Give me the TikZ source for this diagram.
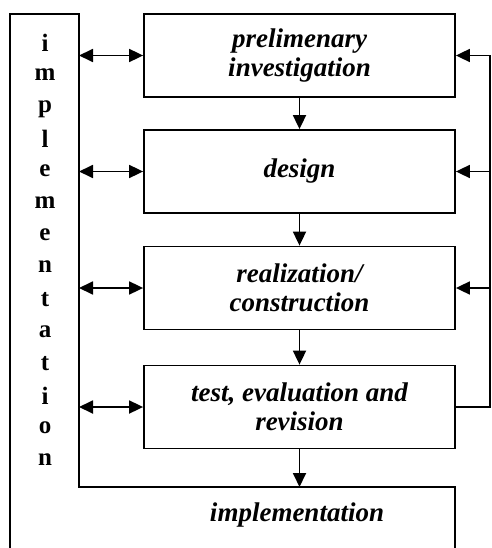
\documentclass[tikz,border=0pt]{standalone}
\usepackage{fontspec}
\setmainfont{Liberation Serif}
\usetikzlibrary{arrows.meta}
\begin{document}
\begin{tikzpicture}[x=1pt,y=-1pt,
  ln/.style={line width=1.8pt},
  stepbox/.style={ln,draw,rectangle,minimum width=311pt,minimum height=83pt,inner sep=0pt,
    align=center,font=\fontsize{27}{28.5}\selectfont\bfseries\itshape},
  arr/.style={ln,-{Triangle[length=14pt,width=13pt]}},
  darr/.style={ln,{Triangle[length=14pt,width=13pt]}-{Triangle[length=14pt,width=13pt]}},
  letter/.style={font=\fontsize{25}{25}\selectfont\bfseries,inner sep=0pt,anchor=center}]
\useasboundingbox (0,0) rectangle (491,548);
% implementation L-shaped frame
\draw[ln] (10,548) -- (10,14) -- (79,14) -- (79,487) -- (455,487) -- (455,548);
% boxes
\node[stepbox] (b1) at (299.5,55.5) {prelimenary\\investigation};
\node[stepbox] (b2) at (299.5,171.5) {design};
\node[stepbox] (b3) at (299.5,288) {realization/\\construction};
\node[stepbox] (b4) at (299.5,407) {test, evaluation and\\revision};
\node[font=\fontsize{27}{28.5}\selectfont\bfseries\itshape] (impl) at (297,515) {implementation};
% vertical letters
\foreach \l [count=\i from 0] in {i,m,p,l,e,m,e,n,t,a,t,i,o,n}
  \node[letter] (L\i) at (45,{45+32.1*\i}) {\vphantom{p}\l};
% left coordinates
\coordinate (l1) at (79,55.5);
\coordinate (l2) at (79,171.5);
\coordinate (l3) at (79,288);
\coordinate (l4) at (79,407);
\coordinate (ib) at (299.5,487);
\coordinate (rb) at (490,407);
\coordinate (rt) at (490,55.5);
\coordinate (r2) at (490,171.5);
\coordinate (r3) at (490,288);
% down arrows
\draw[arr] (b1.south) -- (b2.north);
\draw[arr] (b2.south) -- (b3.north);
\draw[arr] (b3.south) -- (b4.north);
\draw[arr] (b4.south) -- (ib);
% bidirectional
\draw[darr] (l1) -- (b1.west);
\draw[darr] (l2) -- (b2.west);
\draw[darr] (l3) -- (b3.west);
\draw[darr] (l4) -- (b4.west);
% feedback
\draw[ln] (b4.east) -- (rb) -- (rt);
\draw[arr] (rt) -- (b1.east);
\draw[arr] (r2) -- (b2.east);
\draw[arr] (r3) -- (b3.east);
\end{tikzpicture}
\end{document}
